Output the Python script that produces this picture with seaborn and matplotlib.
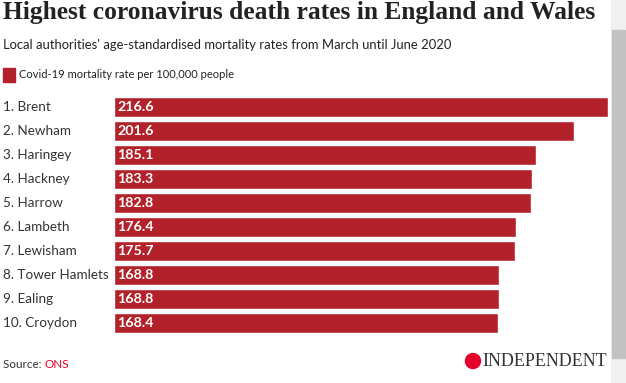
import numpy as np
import pandas as pd
import matplotlib
matplotlib.use("Agg")
import matplotlib.pyplot as plt
import matplotlib.patches as mpatches
import seaborn as sns

# data
areas = ["Brent", "Newham", "Haringey", "Hackney", "Harrow",
         "Lambeth", "Lewisham", "Tower Hamlets", "Ealing", "Croydon"]
rates = [216.6, 201.6, 185.1, 183.3, 182.8, 176.4, 175.7, 168.8, 168.8, 168.4]
labels = [f"{i + 1}. {a}" for i, a in enumerate(areas)]

df = pd.DataFrame({"label": labels, "rate": rates})

bar_color = "#b3222a"
text_color = "#333333"

sns.set_theme(style="white")
plt.rcParams["font.family"] = ["Lato", "DejaVu Sans"]

fig = plt.figure(figsize=(6.26, 3.83), dpi=100)
W, H = 626, 383

# axes placed in pixel terms: bars from x=114 to 608, rows from y=95 to 335
ax = fig.add_axes([114 / W, 1 - 335 / H, 494 / W, 240 / H])
sns.barplot(data=df, y="label", x="rate", color=bar_color, width=0.83,
            saturation=1, ax=ax)
ax.set_xlim(0, 216.6)
ax.set_ylim(9.5, -0.5)
ax.set_xlabel("")
ax.set_ylabel("")
ax.set_xticks([])
ax.set_yticks([])
for s in ax.spines.values():
    s.set_visible(False)

# category labels on the left, values inside bars
for i, (lab, val) in enumerate(zip(labels, rates)):
    fig.text(3 / W, 1 - (107 + 24 * i) / H, lab, ha="left", va="center",
             fontsize=9.7, color=text_color)
    ax.text(1.5, i, f"{val}", ha="left", va="center", color="white",
            fontsize=10.3, fontweight="bold")

# title, subtitle, legend
fig.text(3 / W, 1 - 19 / H, "Highest coronavirus death rates in England and Wales",
         ha="left", va="baseline", fontsize=18.4, fontweight="bold",
         family="Liberation Serif", color="#222222")
fig.text(3 / W, 1 - 45 / H,
         "Local authorities' age-standardised mortality rates from March until June 2020",
         ha="left", va="center", fontsize=9.4, color="#222222")
fig.patches.append(mpatches.Rectangle((3 / W, 1 - 82 / H), 12 / W, 14 / H,
                                      transform=fig.transFigure, color=bar_color))
fig.text(19 / W, 1 - 75 / H, "Covid-19 mortality rate per 100,000 people",
         ha="left", va="center", fontsize=8, color="#222222")

# source
t = fig.text(3 / W, 1 - 364 / H, "Source: ", ha="left", va="center",
             fontsize=8.4, color=text_color)
fig.canvas.draw()
bb = t.get_window_extent()
fig.text(bb.x1 / W, 1 - 364 / H, "ONS", ha="left", va="center",
         fontsize=8.4, color="#e4002b")

# Independent mark
fig.patches.append(mpatches.Ellipse((473 / W, 1 - 361 / H), 15 / W, 15 / H,
                                    transform=fig.transFigure, color="#e4002b"))
fig.text(482 / W, 1 - 361 / H, "INDEPENDENT", ha="left", va="center",
         fontsize=13, family="Liberation Serif", color="#333333")

# scrollbar strip at the right
fig.patches.append(mpatches.Rectangle((611 / W, 0), 15 / W, 1,
                                      transform=fig.transFigure, color="#f0f0f0"))
fig.patches.append(mpatches.Rectangle((612 / W, 25 / H), 13 / W, 1 - 55 / H,
                                      transform=fig.transFigure, color="#c2c2c2"))

fig.savefig("out.png", dpi=100)
